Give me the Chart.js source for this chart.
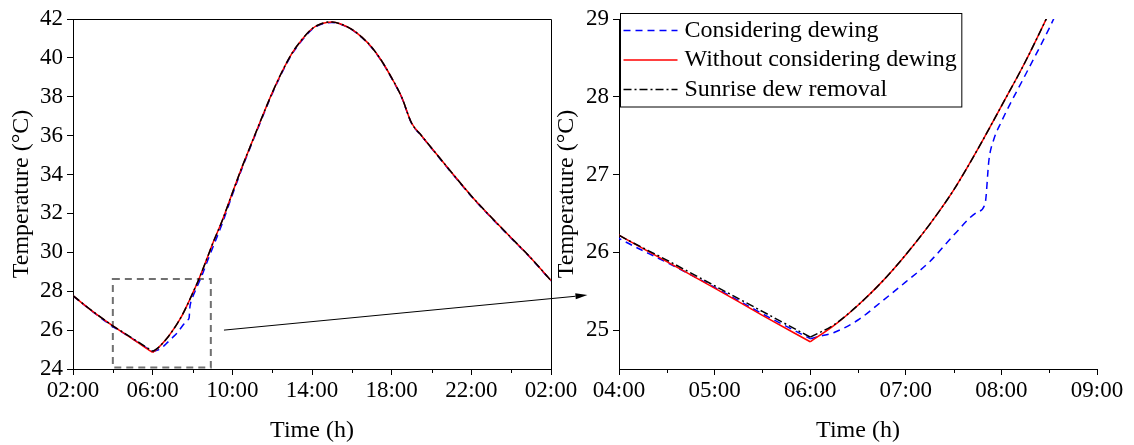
<!DOCTYPE html>
<html lang="en">
<head>
    <meta charset="UTF-8">
    <title>Temperature: dewing comparison</title>
    <script src="https://cdn.jsdelivr.net/npm/chart.js"></script>
    <style>
        body {
            margin: 0;
            background: #fff;
        }

        #wrap {
            position: relative;
            width: 1134px;
            height: 445px;
        }

        #wrap canvas {
            position: absolute;
            top: 0;
        }

        #left { left: 0; }
        #right { left: 550px; }
        #overlay { left: 0; pointer-events: none; }
    </style>
</head>
<body>
    <div id="wrap">
        <canvas id="left" width="590" height="445"></canvas>
        <canvas id="right" width="584" height="445"></canvas>
        <canvas id="overlay" width="1134" height="445"></canvas>
    </div>

    <script>
        // Time in hours (26 = 02:00 next day)
        const dayHours = [2, 3, 4, 4.5, 5, 5.5, 6, 6.25, 6.5, 6.75, 7, 7.25, 7.5, 7.75, 8, 8.25, 8.5, 8.75, 9, 9.5,
            10, 10.5, 11, 11.5, 12, 12.5, 13, 13.5, 14, 14.5, 15, 15.5, 16, 16.5, 17, 17.5, 18, 18.5, 19, 19.5,
            20, 21, 22, 23, 24, 25, 26];

        // Without considering dewing
        const tempNoDew = [27.77, 26.95, 26.22, 25.88, 25.54, 25.19, 24.85, 25.06, 25.32, 25.62, 25.97, 26.36, 26.80, 27.32, 27.88, 28.45, 29.08, 29.74, 30.42, 31.65,
            33.05, 34.42, 35.70, 36.97, 38.20, 39.30, 40.25, 40.95, 41.50, 41.77, 41.85, 41.72, 41.47, 41.07, 40.55, 39.84, 38.97, 37.99, 36.65, 36.00,
            35.37, 34.12, 32.90, 31.80, 30.75, 29.70, 28.55];

        // Sunrise dew removal
        const tempSunrise = [27.77, 26.96, 26.22, 25.90, 25.57, 25.24, 24.91, 25.07, 25.32, 25.62, 25.97, 26.36, 26.80, 27.32, 27.88, 28.45, 29.08, 29.74, 30.42, 31.65,
            33.05, 34.42, 35.70, 36.97, 38.20, 39.30, 40.25, 40.95, 41.50, 41.77, 41.85, 41.72, 41.47, 41.07, 40.55, 39.84, 38.97, 37.99, 36.65, 36.00,
            35.37, 34.12, 32.90, 31.80, 30.75, 29.70, 28.55];

        // Considering dewing
        const dewHours = [2, 3, 4, 4.5, 5, 5.5, 6, 6.1, 6.25, 6.5, 6.75, 7, 7.25, 7.5, 7.75, 7.83, 7.87, 7.92, 8, 8.25, 8.5, 8.75, 9, 9.5,
            10, 10.5, 11, 11.5, 12, 12.5, 13, 13.5, 14, 14.5, 15, 15.5, 16, 16.5, 17, 17.5, 18, 18.5, 19, 19.5,
            20, 21, 22, 23, 24, 25, 26];
        const tempDew = [27.76, 26.94, 26.18, 25.87, 25.55, 25.21, 24.89, 24.92, 24.97, 25.13, 25.37, 25.62, 25.88, 26.22, 26.52, 26.63, 27.19, 27.45, 27.68, 28.28, 28.88, 29.55, 30.20, 31.50,
            32.95, 34.35, 35.65, 36.92, 38.15, 39.25, 40.20, 40.90, 41.46, 41.74, 41.82, 41.70, 41.45, 41.05, 40.52, 39.82, 38.95, 37.97, 36.63, 35.98,
            35.35, 34.10, 32.88, 31.78, 30.73, 29.68, 28.53];

        const seriesNames = ['Considering dewing', 'Without considering dewing', 'Sunrise dew removal'];
        const sunriseHour = 6;   // curves turn sharply here

        // Region shown in the right panel, and arrow ends (data units)
        const zoomBoxX = [4, 8.92];
        const zoomBoxY = [24.08, 28.63];
        const arrowFrom = [9.58, 26.0];   // left panel
        const arrowTo = [3.67, 25.45];    // right panel

        const seriesStyles = [
            { color: '#0000ff', dash: [7, 5], order: 3 },
            { color: '#ff0000', dash: [], order: 2 },
            { color: '#000000', dash: [8, 3, 2, 3], order: 1 }
        ];

        Chart.defaults.font.family = "'Liberation Serif', 'Times New Roman', serif";
        Chart.defaults.color = '#000';

        const pairs = (xs, ys) => xs.map((x, i) => ({ x: x, y: ys[i] }));

        // Each series is drawn as two pieces, before and after sunrise, so the minimum stays a sharp corner
        function makeDatasets() {
            const src = [[dewHours, tempDew], [dayHours, tempNoDew], [dayHours, tempSunrise]];
            const sets = [];
            src.forEach(([xs, ys], i) => {
                const pts = pairs(xs, ys);
                const k = xs.indexOf(sunriseHour);
                const st = seriesStyles[i];
                [pts.slice(0, k + 1), pts.slice(k)].forEach(part => {
                    sets.push({
                        label: seriesNames[i],
                        data: part,
                        borderColor: st.color,
                        borderWidth: 1.5,
                        borderDash: st.dash,
                        order: st.order
                    });
                });
            });
            return sets;
        }

        function fmtHour(v) {
            const h = ((Math.round(v) % 24) + 24) % 24;
            return String(h).padStart(2, '0') + ':00';
        }

        // Short ticks half-way between the labelled ones
        const minorTicks = {
            id: 'minorTicks',
            afterDraw(chart, args, opts) {
                if (!opts.step) return;
                const s = chart.scales.x;
                const ctx = chart.ctx;
                ctx.save();
                ctx.strokeStyle = '#000';
                ctx.lineWidth = 1;
                for (let v = s.min + opts.step; v < s.max; v += 2 * opts.step) {
                    const px = Math.round(s.getPixelForValue(v)) + 0.5;
                    ctx.beginPath();
                    ctx.moveTo(px, s.top);
                    ctx.lineTo(px, s.top + 4);
                    ctx.stroke();
                }
                ctx.restore();
            }
        };

        // Top and right frame lines
        const frame = {
            id: 'frame',
            afterDraw(chart, args, opts) {
                if (!opts.show) return;
                const a = chart.chartArea;
                const ctx = chart.ctx;
                ctx.save();
                ctx.strokeStyle = '#000';
                ctx.lineWidth = 1;
                ctx.beginPath();
                ctx.moveTo(Math.round(a.left), Math.round(a.top) + 0.5);
                ctx.lineTo(Math.round(a.right) + 0.5, Math.round(a.top) + 0.5);
                ctx.lineTo(Math.round(a.right) + 0.5, Math.round(a.bottom));
                ctx.stroke();
                ctx.restore();
            }
        };

        // Dashed rectangle marking the zoomed region
        const zoomBox = {
            id: 'zoomBox',
            beforeDatasetsDraw(chart, args, opts) {
                if (!opts.show) return;
                const { x, y } = chart.scales;
                const x0 = x.getPixelForValue(zoomBoxX[0]);
                const x1 = x.getPixelForValue(zoomBoxX[1]);
                const y0 = y.getPixelForValue(zoomBoxY[1]);
                const y1 = y.getPixelForValue(zoomBoxY[0]);
                const ctx = chart.ctx;
                ctx.save();
                ctx.strokeStyle = '#707070';
                ctx.lineWidth = 2;
                ctx.setLineDash([7, 5]);
                ctx.strokeRect(x0, y0, x1 - x0, y1 - y0);
                ctx.restore();
            }
        };

        // Boxed legend in the top-left corner of the plot
        const boxLegend = {
            id: 'boxLegend',
            afterDraw(chart, args, opts) {
                if (!opts.show) return;
                const ctx = chart.ctx;
                const a = chart.chartArea;
                ctx.save();
                ctx.font = '24px ' + Chart.defaults.font.family;
                const textW = Math.max(...seriesNames.map(n => ctx.measureText(n).width));
                const left = a.left + 1.5;
                const top = a.top - 5.5;
                const rowH = 29.5;
                const w = 64 + textW + 5;
                const h = rowH * seriesNames.length + 5;
                ctx.fillStyle = '#fff';
                ctx.fillRect(left, top, w, h);
                ctx.strokeStyle = '#000';
                ctx.lineWidth = 1;
                ctx.strokeRect(left, top, w, h);
                seriesNames.forEach((name, i) => {
                    const st = seriesStyles[i];
                    const cy = top + 17 + i * rowH;
                    ctx.strokeStyle = st.color;
                    ctx.lineWidth = 1.5;
                    ctx.setLineDash(st.dash);
                    ctx.beginPath();
                    ctx.moveTo(left + 3, cy);
                    ctx.lineTo(left + 57, cy);
                    ctx.stroke();
                    ctx.setLineDash([]);
                    ctx.fillStyle = '#000';
                    ctx.textBaseline = 'middle';
                    ctx.fillText(name, left + 64, cy);
                });
                ctx.restore();
            }
        };

        function axisOptions(cfg) {
            return {
                x: {
                    type: 'linear',
                    min: cfg.xMin,
                    max: cfg.xMax,
                    ticks: {
                        stepSize: cfg.xStep,
                        callback: fmtHour,
                        font: { size: 23 },
                        color: '#000',
                        padding: 2,
                        maxRotation: 0,
                        autoSkip: false
                    },
                    grid: { display: true, drawOnChartArea: false, drawTicks: true, tickLength: 6, color: '#000' },
                    border: { display: true, color: '#000', width: 1 },
                    title: { display: true, text: 'Time (h)', font: { size: 24 }, color: '#000', padding: { top: 0, bottom: 0 } },
                    afterFit: s => { s.height = 76; }
                },
                y: {
                    min: cfg.yMin,
                    max: cfg.yMax,
                    ticks: {
                        stepSize: cfg.yStep,
                        font: { size: 23 },
                        color: '#000',
                        padding: 4
                    },
                    afterBuildTicks: s => { s.ticks = s.ticks.filter(t => Number.isInteger(t.value)); },
                    grid: { display: true, drawOnChartArea: false, drawTicks: true, tickLength: 6, color: '#000' },
                    border: { display: true, color: '#000', width: 1 },
                    title: { display: true, text: 'Temperature (°C)', font: { size: 24 }, color: '#000', padding: { top: cfg.titlePad, bottom: 0 } },
                    afterFit: s => { s.width = cfg.yWidth; }
                }
            };
        }

        function baseOptions(cfg) {
            return {
                responsive: false,
                animation: false,
                events: [],
                layout: { autoPadding: false, padding: { top: 19, right: cfg.rightPad, bottom: 0, left: 0 } },
                elements: {
                    point: { radius: 0 },
                    line: { cubicInterpolationMode: 'monotone', fill: false }
                },
                scales: axisOptions(cfg),
                plugins: {
                    legend: { display: false },
                    tooltip: { enabled: false },
                    minorTicks: { step: cfg.minorStep },
                    frame: { show: cfg.frame },
                    zoomBox: { show: cfg.zoomBox },
                    boxLegend: { show: cfg.legend }
                }
            };
        }

        const leftChart = new Chart(document.getElementById('left'), {
            type: 'line',
            data: { datasets: makeDatasets() },
            options: baseOptions({
                xMin: 2, xMax: 26, xStep: 4, minorStep: 2,
                yMin: 24, yMax: 42, yStep: 2,
                yWidth: 73, rightPad: 39, titlePad: 7,
                frame: true, zoomBox: true, legend: false
            }),
            plugins: [minorTicks, frame, zoomBox, boxLegend]
        });

        const rightChart = new Chart(document.getElementById('right'), {
            type: 'line',
            data: { datasets: makeDatasets() },
            options: baseOptions({
                xMin: 4, xMax: 9, xStep: 1, minorStep: 0.5,
                yMin: 24.5, yMax: 29, yStep: 1,
                yWidth: 69, rightPad: 37, titlePad: 2,
                frame: false, zoomBox: false, legend: true
            }),
            plugins: [minorTicks, frame, zoomBox, boxLegend]
        });

        // Arrow from the zoom box to the right panel
        function drawArrow() {
            const ctx = document.getElementById('overlay').getContext('2d');
            const rightOffset = 550;
            const x0 = leftChart.scales.x.getPixelForValue(arrowFrom[0]);
            const y0 = leftChart.scales.y.getPixelForValue(arrowFrom[1]);
            const x1 = rightChart.scales.x.getPixelForValue(arrowTo[0]) + rightOffset;
            const y1 = rightChart.scales.y.getPixelForValue(arrowTo[1]);
            const ang = Math.atan2(y1 - y0, x1 - x0);
            const len = 12, half = 3;
            ctx.strokeStyle = '#000';
            ctx.fillStyle = '#000';
            ctx.lineWidth = 1;
            ctx.beginPath();
            ctx.moveTo(x0, y0);
            ctx.lineTo(x1 - len * Math.cos(ang), y1 - len * Math.sin(ang));
            ctx.stroke();
            ctx.beginPath();
            ctx.moveTo(x1, y1);
            ctx.lineTo(x1 - len * Math.cos(ang) + half * Math.sin(ang), y1 - len * Math.sin(ang) - half * Math.cos(ang));
            ctx.lineTo(x1 - len * Math.cos(ang) - half * Math.sin(ang), y1 - len * Math.sin(ang) + half * Math.cos(ang));
            ctx.closePath();
            ctx.fill();
        }
        drawArrow();
    </script>
</body>
</html>
